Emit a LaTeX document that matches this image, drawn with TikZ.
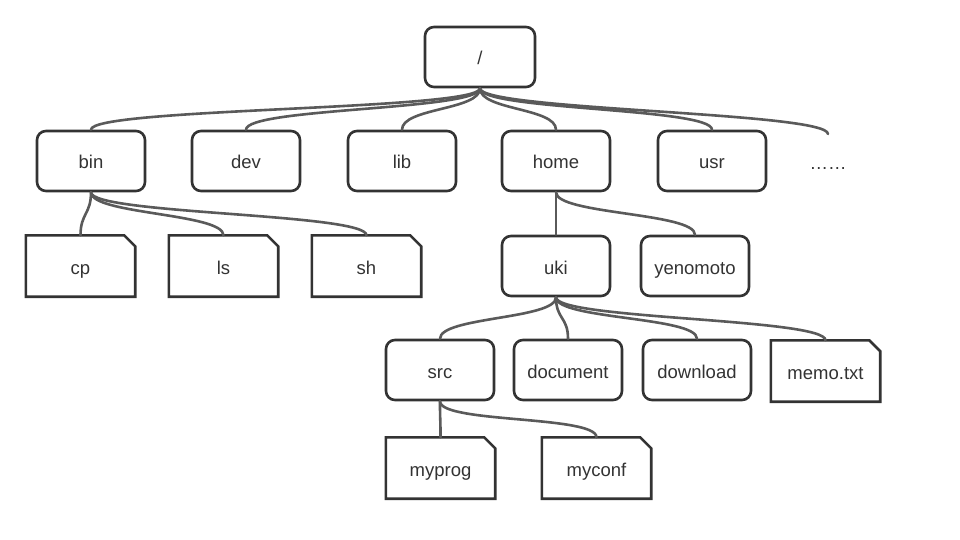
\documentclass[tikz,border=0pt]{standalone}
\usepackage{fontspec}
\setmainfont{Liberation Sans}
\begin{document}
\begin{tikzpicture}[x=1pt,y=-1pt,
  txt/.style={text=txtc, font=\fontsize{18.5}{21}\selectfont, text height=18pt, text depth=2pt, inner sep=0pt},
  dirbox/.style={txt, draw=boxc, line width=2.6pt, rounded corners=9pt, minimum width=108pt, minimum height=60pt},
  filebox/.style={txt, minimum width=109pt, minimum height=61pt},
  fileline/.style={draw=boxc, line width=2.6pt, line join=miter},
  conn/.style={draw=linec, line width=2.6pt, line cap=round}]
\definecolor{boxc}{HTML}{333333}
\definecolor{linec}{HTML}{5A5A5A}
\definecolor{txtc}{HTML}{333333}
\useasboundingbox[fill=white] (0,0) rectangle (960,540);
% directories
\node[dirbox, minimum width=110pt] (root) at (480,57) {/};
\node[dirbox] (bin) at (91,161) {bin};
\node[dirbox] (dev) at (246,161) {dev};
\node[dirbox] (lib) at (402,161) {lib};
\node[dirbox] (home) at (556,161) {home};
\node[dirbox] (usr) at (712,161) {usr};
\node[txt] (more) at (828,162) {……};
\coordinate (moretop) at (828,134);
\node[dirbox] (uki) at (556,266) {uki};
\node[dirbox] (yeno) at (695,266) {yenomoto};
\node[dirbox] (src) at (440,370) {src};
\node[dirbox] (doc) at (568,370) {document};
\node[dirbox] (down) at (697,370) {download};
% files
\node[filebox] (cp) at (80.5,266) {cp};
\node[filebox] (ls) at (223.5,266) {ls};
\node[filebox] (sh) at (366.5,266) {sh};
\node[filebox] (memo) at (825.5,371) {memo.txt};
\node[filebox] (myprog) at (440.5,468) {myprog};
\node[filebox] (myconf) at (596.5,468) {myconf};
\foreach \f in {cp,ls,sh,memo,myprog,myconf}{
  \draw[fileline] (\f.north west) -- ([xshift=-11pt]\f.north east) -- ([yshift=-11pt]\f.north east) -- (\f.south east) -- (\f.south west) -- cycle;
}
% connectors
\foreach \p/\c in {root/bin,root/dev,root/lib,root/home,root/usr,
                   bin/cp,bin/ls,bin/sh,home/uki,home/yeno,
                   uki/src,uki/doc,uki/down,uki/memo,src/myprog,src/myconf}{
  \draw[conn] (\p.south) .. controls +(0,22) and +(0,-22) .. (\c.north);
}
\draw[conn] (root.south) .. controls +(0,22) and +(0,-22) .. (moretop);
\end{tikzpicture}
\end{document}
